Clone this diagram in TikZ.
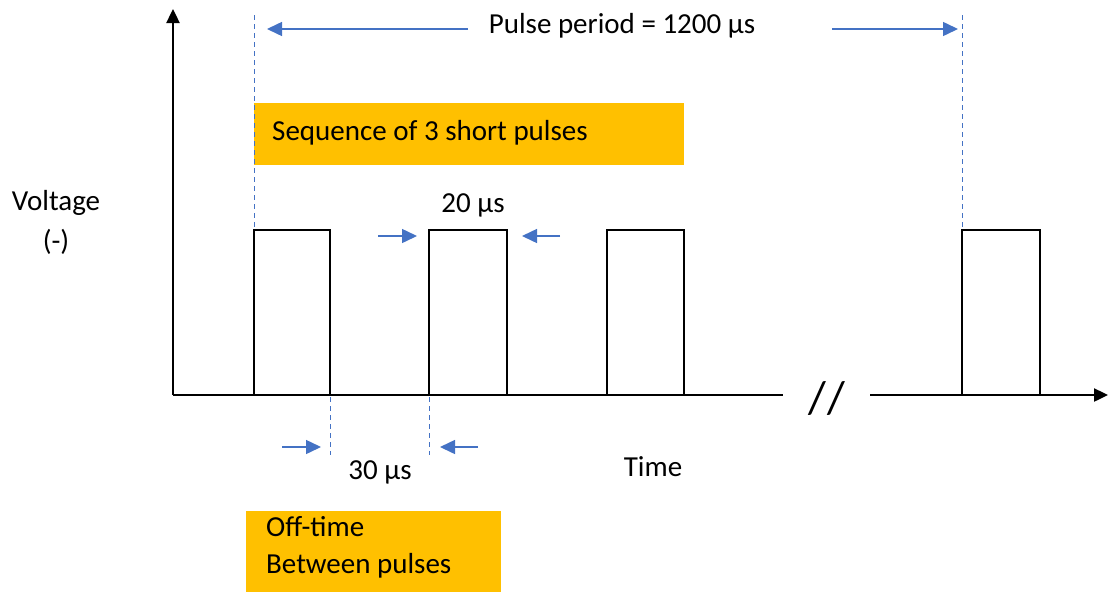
\documentclass[tikz,border=0pt]{standalone}
\usepackage{fontspec}
\setmainfont{Carlito}
\usetikzlibrary{arrows.meta}
\definecolor{blu}{HTML}{4472C4}
\definecolor{org}{HTML}{FFC000}
\begin{document}
\begin{tikzpicture}[x=1pt,y=-1pt,
 axis/.style={line width=2.4pt, -{Triangle[length=14pt,width=13pt]}},
 pulse/.style={line width=2.4pt},
 guide/.style={blu, line width=1pt, dash pattern=on 5pt off 4pt},
 dim/.style={blu, line width=1.5pt, -{Triangle[length=15pt,width=14pt]}},
 lbl/.style={font=\fontsize{29}{35}\selectfont, inner sep=0pt},
 band/.style={fill=org, draw=none, inner sep=0pt, anchor=north west}]
\useasboundingbox (0,0) rectangle (1108,592);
% bands
\node[band, minimum width=430pt, minimum height=62pt] (seqbox) at (254,103) {};
\node[band, minimum width=255pt, minimum height=81pt] (offbox) at (246,511) {};
% axes
\coordinate (O) at (173,395);
\coordinate (ytop) at (173,9);
\coordinate (brkL) at (783,395);
\coordinate (brkR) at (870,395);
\coordinate (xend) at (1108,395);
\draw[axis] (O) -- (ytop);
\draw[pulse] (O) -- (brkL);
\draw[axis] (brkR) -- (xend);
\node[font=\fontsize{46}{52}\selectfont, inner sep=0pt] (brk) at (827,398) {/\kern2pt/};
% guides
\coordinate (g1t) at (254,15); \coordinate (g1b) at (254,395);
\coordinate (g4t) at (962,15); \coordinate (g4b) at (962,395);
\coordinate (g2t) at (330,397); \coordinate (g2b) at (330,455);
\coordinate (g3t) at (429,397); \coordinate (g3b) at (429,455);
\draw[guide] (g1t) -- (g1b);
\draw[guide] (g4t) -- (g4b);
\draw[guide] (g2t) -- (g2b);
\draw[guide] (g3t) -- (g3b);
% pulses
\draw[pulse] (254,395) |- (330,230) -- (330,395);
\draw[pulse] (429,395) |- (507,230) -- (507,395);
\draw[pulse] (607,395) |- (684,230) -- (684,395);
\draw[pulse] (962,395) |- (1040,230) -- (1040,395);
% dimension arrows
\coordinate (pa1) at (468,29); \coordinate (pa1t) at (267,29);
\coordinate (pa2) at (832,29); \coordinate (pa2t) at (958,29);
\draw[dim] (pa1) -- (pa1t);
\draw[dim] (pa2) -- (pa2t);
\coordinate (wa1) at (378,236); \coordinate (wa1t) at (417,236);
\coordinate (wa2) at (560,236); \coordinate (wa2t) at (522,236);
\draw[dim] (wa1) -- (wa1t);
\draw[dim] (wa2) -- (wa2t);
\coordinate (oa1) at (282,447); \coordinate (oa1t) at (321,447);
\coordinate (oa2) at (478,447); \coordinate (oa2t) at (440,447);
\draw[dim] (oa1) -- (oa1t);
\draw[dim] (oa2) -- (oa2t);
% labels
\node[lbl, anchor=base] (period) at (622,33) {Pulse period = 1200 µs};
\node[lbl, anchor=base west] (seq) at (272,140) {Sequence of 3 short pulses};
\node[lbl, anchor=base] (volt) at (56,210) {Voltage};
\node[lbl, anchor=base] (neg) at (56,250) {(-)};
\node[lbl, anchor=base] (w20) at (473,212) {20 µs};
\node[lbl, anchor=base] (o30) at (380,479) {30 µs};
\node[lbl, anchor=base] (time) at (653,476) {Time};
\node[lbl, anchor=base west] (off1) at (266,536) {Off-time};
\node[lbl, anchor=base west] (off2) at (266,573) {Between pulses};
\end{tikzpicture}
\end{document}
